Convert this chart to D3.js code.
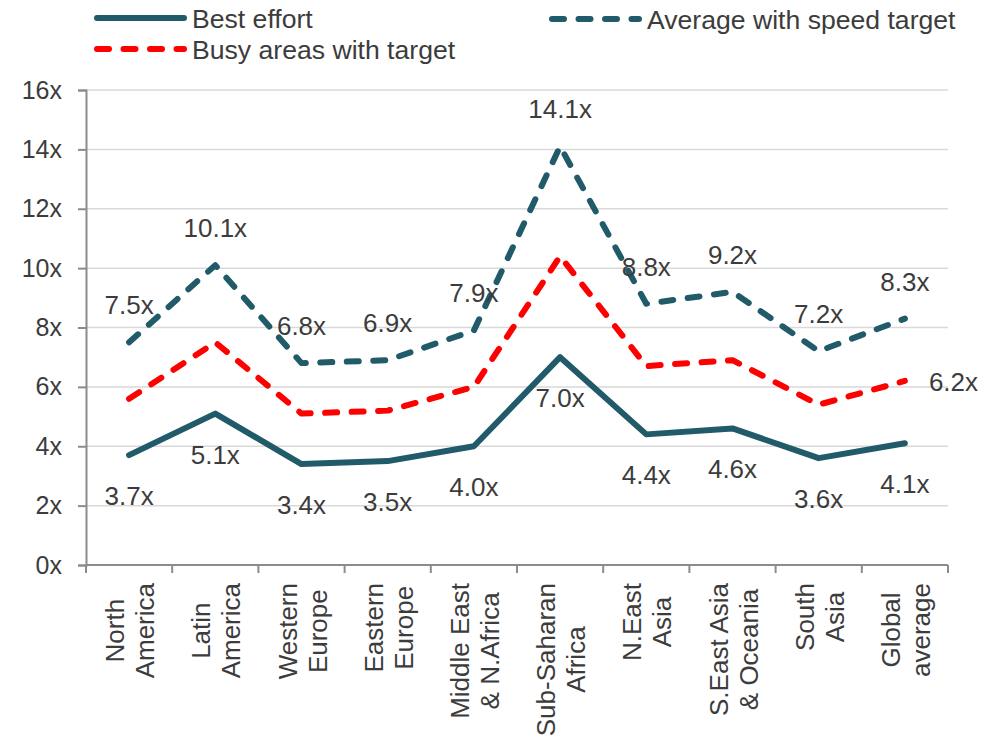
<!DOCTYPE html>
<html>
<head>
<meta charset="utf-8">
<script src="https://cdn.jsdelivr.net/npm/d3@7"></script>
<style>
  html, body { margin: 0; padding: 0; background: #fff; }
  svg { display: block; font-family: "Liberation Sans", Arial, sans-serif; }
</style>
</head>
<body>
<svg id="chart" width="991" height="738"></svg>
<script>
// ---- data ----
const categories = ["North America", "Latin America", "Western Europe", "Eastern Europe",
  "Middle East & N.Africa", "Sub-Saharan Africa", "N.East Asia", "S.East Asia & Oceania",
  "South Asia", "Global average"];
const categoryLines = [["North", "America"], ["Latin", "America"], ["Western", "Europe"],
  ["Eastern", "Europe"], ["Middle East", "& N.Africa"], ["Sub-Saharan", "Africa"],
  ["N.East", "Asia"], ["S.East Asia", "& Oceania"], ["South", "Asia"], ["Global", "average"]];
const bestEffort = [3.7, 5.1, 3.4, 3.5, 4.0, 7.0, 4.4, 4.6, 3.6, 4.1];
const avgWithTarget = [7.5, 10.1, 6.8, 6.9, 7.9, 14.1, 8.8, 9.2, 7.2, 8.3];
const busyWithTarget = [5.6, 7.5, 5.1, 5.2, 6.0, 10.4, 6.7, 6.9, 5.4, 6.2];
const yTicks = [0, 2, 4, 6, 8, 10, 12, 14, 16];
const seriesNames = ["Best effort", "Average with speed target", "Busy areas with target"];

// ---- styling ----
const TEAL = "#215B69";
const RED = "#FF0000";
const TEXT = "#3C3C3C";
const margin = { left: 86, right: 43, top: 90, bottom: 173 };
const W = 991, H = 738;

const svg = d3.select("#chart");
const x = d3.scaleBand().domain(categories).range([margin.left, W - margin.right]);
const y = d3.scaleLinear().domain([0, 16]).range([H - margin.bottom, margin.top]);
const cx = c => x(c) + x.bandwidth() / 2;

// gridlines
svg.append("g").selectAll("line").data(yTicks.filter(t => t > 0)).join("line")
  .attr("x1", margin.left).attr("x2", W - margin.right)
  .attr("y1", d => y(d)).attr("y2", d => y(d))
  .attr("stroke", "#D9D9D9").attr("stroke-width", 1.5);

// y axis
const yAxis = svg.append("g").attr("transform", `translate(${margin.left},0)`)
  .call(d3.axisLeft(y).tickValues(yTicks).tickFormat(d => d + "x").tickSize(8).tickPadding(16));
yAxis.select(".domain").attr("stroke", "#8C8C8C").attr("stroke-width", 2);
yAxis.selectAll(".tick line").attr("stroke", "#8C8C8C").attr("stroke-width", 2);
yAxis.selectAll(".tick text").attr("fill", TEXT).attr("font-size", 25)
  .attr("font-family", "Liberation Sans, Arial, sans-serif");

// x axis line and ticks (between categories)
const x0 = y(0);
svg.append("line").attr("x1", margin.left).attr("x2", W - margin.right)
  .attr("y1", x0).attr("y2", x0).attr("stroke", "#8C8C8C").attr("stroke-width", 2);
const tickPos = categories.map(c => x(c)).concat([x.range()[1]]);
svg.append("g").selectAll("line").data(tickPos).join("line")
  .attr("x1", d => d).attr("x2", d => d).attr("y1", x0).attr("y2", x0 + 8)
  .attr("stroke", "#8C8C8C").attr("stroke-width", 2);

// category labels (rotated)
const labelTop = x0 + 18;
categories.forEach((c, i) => {
  const lines = categoryLines[i];
  const g = svg.append("g");
  const texts = lines.map((ln, j) => g.append("text").text(ln)
    .attr("font-size", 26).attr("fill", TEXT).attr("text-anchor", "middle"));
  const maxLen = d3.max(texts.map(t => t.node().getComputedTextLength()));
  const n = lines.length;
  texts.forEach((t, j) => {
    t.attr("x", 0).attr("y", (j - (n - 1) / 2) * 30 + 10);
  });
  g.attr("transform", `translate(${cx(c)},${labelTop + maxLen / 2}) rotate(-90)`);
});

// lines
const line = d3.line().x((d, i) => cx(categories[i])).y(d => y(d));
function drawSeries(data, color, dashed) {
  svg.append("path").datum(data).attr("d", line)
    .attr("fill", "none").attr("stroke", color).attr("stroke-width", 6)
    .attr("stroke-linecap", "round").attr("stroke-linejoin", "round")
    .attr("stroke-dasharray", dashed ? "12 14.5" : null);
}
drawSeries(bestEffort, TEAL, false);
drawSeries(avgWithTarget, TEAL, true);
drawSeries(busyWithTarget, RED, true);

// data labels
const fmt = v => v.toFixed(1) + "x";
svg.append("g").selectAll("text").data(avgWithTarget).join("text")
  .attr("x", (d, i) => cx(categories[i])).attr("y", d => y(d) - 37)
  .attr("dominant-baseline", "central").attr("text-anchor", "middle")
  .attr("font-size", 26).attr("fill", TEXT).text(fmt);
svg.append("g").selectAll("text").data(bestEffort).join("text")
  .attr("x", (d, i) => cx(categories[i])).attr("y", d => y(d) + 41)
  .attr("dominant-baseline", "central").attr("text-anchor", "middle")
  .attr("font-size", 26).attr("fill", TEXT).text(fmt);
const lastI = busyWithTarget.length - 1;
svg.append("text")
  .attr("x", cx(categories[lastI]) + 24).attr("y", y(busyWithTarget[lastI]) + 1)
  .attr("dominant-baseline", "central").attr("text-anchor", "start")
  .attr("font-size", 26).attr("fill", TEXT).text(fmt(busyWithTarget[lastI]));

// legend
const legendItems = [
  { name: seriesNames[0], color: TEAL, dashed: false, x: 97, y: 18 },
  { name: seriesNames[1], color: TEAL, dashed: true, x: 552, y: 19 },
  { name: seriesNames[2], color: RED, dashed: true, x: 97, y: 49 }
];
const lg = svg.append("g").selectAll("g").data(legendItems).join("g")
  .attr("transform", d => `translate(${d.x},${d.y})`);
lg.append("line").attr("x1", 0).attr("x2", 87).attr("y1", 0).attr("y2", 0)
  .attr("stroke", d => d.color).attr("stroke-width", 6).attr("stroke-linecap", "round")
  .attr("stroke-dasharray", d => d.dashed ? "12 14.5" : null);
lg.append("text").attr("x", 95).attr("y", 1).attr("dominant-baseline", "central")
  .attr("font-size", 26.6).attr("fill", TEXT).text(d => d.name);
</script>
</body>
</html>
